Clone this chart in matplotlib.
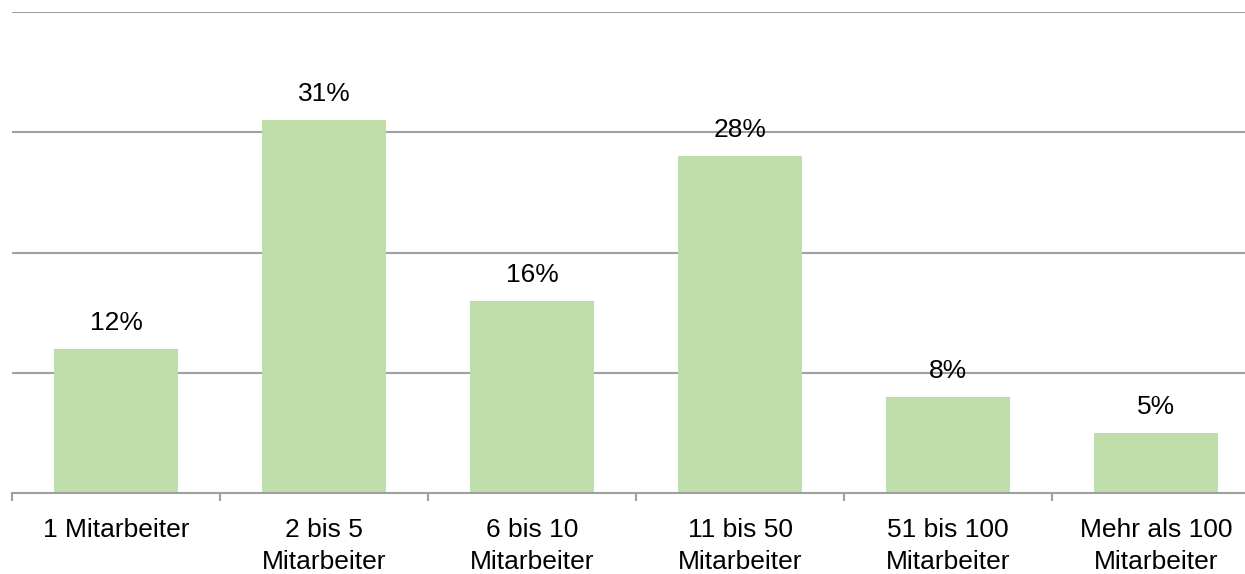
import numpy as np
import matplotlib.pyplot as plt

# Data
categories = ['1 Mitarbeiter', '2 bis 5\nMitarbeiter', '6 bis 10\nMitarbeiter',
              '11 bis 50\nMitarbeiter', '51 bis 100\nMitarbeiter', 'Mehr als 100\nMitarbeiter']
shares = [12, 31, 16, 28, 8, 5]

plt.rcParams['font.family'] = ['Liberation Sans', 'DejaVu Sans']

W, H = 1245, 574
fig = plt.figure(figsize=(W / 100, H / 100), dpi=100)
# plot area runs slightly past the right edge of the picture
ax = fig.add_axes([12 / W, 1 - 493 / H, (1260 - 12) / W, (493 - 12) / H])

x = np.arange(len(categories))
ax.bar(x, shares, width=0.6, color='#BFDDA9', zorder=2)

# value labels above the bars
for xi, v in zip(x, shares):
    ax.annotate(f'{v}%', (xi, v), xytext=(0, 14), textcoords='offset pixels',
                ha='center', va='bottom', fontsize=19, color='black')

ax.set_xlim(-0.5, len(categories) - 0.5)
ax.set_ylim(0, 40)
ax.set_yticks([10, 20, 30, 40])
ax.yaxis.grid(True, color='#A0A0A0', linewidth=1.5, zorder=0)
ax.tick_params(axis='y', left=False, labelleft=False)

# category labels at centers, tick marks at boundaries
ax.set_xticks(x)
ax.set_xticklabels(categories, fontsize=19, color='black', linespacing=1.4)
ax.tick_params(axis='x', which='major', length=0, pad=18)
ax.set_xticks(np.arange(-0.5, len(categories)), minor=True)
ax.tick_params(axis='x', which='minor', length=6, width=1.5, color='#A0A0A0', direction='out')

for side in ['top', 'right', 'left']:
    ax.spines[side].set_visible(False)
ax.spines['bottom'].set_color('#A0A0A0')
ax.spines['bottom'].set_linewidth(1.5)

fig.savefig('out.png', dpi=100)
